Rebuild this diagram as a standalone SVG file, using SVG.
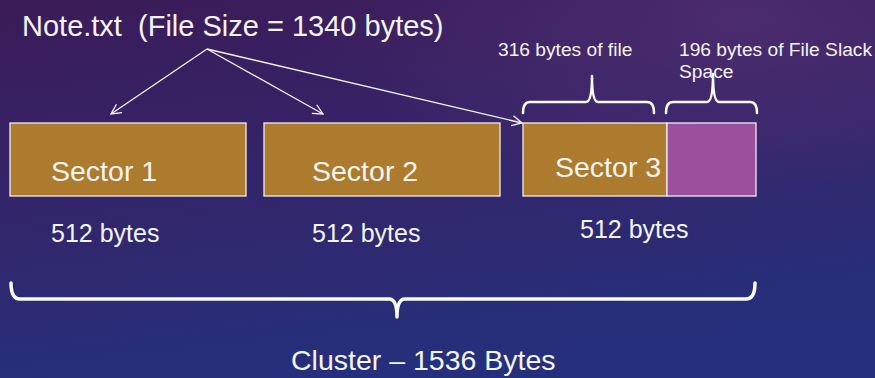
<svg xmlns="http://www.w3.org/2000/svg" width="875" height="378" viewBox="0 0 875 378">
<style>
text{font-family:"Liberation Sans",Arial,sans-serif;fill:#f4f4f4}
.title{font-size:29px;white-space:pre}
.big{font-size:28.5px}
.mid{font-size:25px}
.sm{font-size:19.2px}
.sector{fill:#ad7b2e;stroke:#f0ecf0;stroke-width:1.3}
.slack{fill:#9b4f9d;stroke:#f0ecf0;stroke-width:1.3}
.arrow{stroke:#f4f4f4;stroke-width:1.3;fill:none;marker-end:url(#head)}
.brace{stroke:#fafafa;fill:none;stroke-linejoin:round;stroke-linecap:round}
</style>
<defs>
<linearGradient id="bg" x1="0" y1="0" x2="0.25" y2="1">
<stop offset="0" stop-color="#3b1b58"/>
<stop offset="0.45" stop-color="#352468"/>
<stop offset="1" stop-color="#262f7b"/>
</linearGradient>
<radialGradient id="glow" cx="0.85" cy="0.05" r="0.5">
<stop offset="0" stop-color="#5a3577" stop-opacity="0.55"/>
<stop offset="1" stop-color="#5a3577" stop-opacity="0"/>
</radialGradient>
<marker id="head" viewBox="0 0 12 12" refX="11" refY="6" markerWidth="12" markerHeight="12" markerUnits="userSpaceOnUse" orient="auto">
<path d="M1,1 L11,6 L1,11" fill="none" stroke="#f4f4f4" stroke-width="1.3"/>
</marker>
</defs>
<rect width="875" height="378" fill="url(#bg)"/>
<rect width="875" height="378" fill="url(#glow)"/>

<g id="title">
<text class="title" x="22" y="36" xml:space="preserve">Note.txt  (File Size = 1340 bytes)</text>
</g>

<g id="connectors">
<path class="arrow" d="M207,49 L111,114"/>
<path class="arrow" d="M207,49 L323,114"/>
<path class="arrow" d="M207,49 L522,123"/>
</g>

<g id="sector1">
<rect class="sector" x="10" y="123" width="236" height="73"/>
<text class="big" x="51" y="181">Sector 1</text>
<text class="mid" x="51" y="242">512 bytes</text>
</g>

<g id="sector2">
<rect class="sector" x="264" y="123" width="236" height="73"/>
<text class="big" x="312" y="181">Sector 2</text>
<text class="mid" x="312" y="242">512 bytes</text>
</g>

<g id="sector3">
<rect class="sector" x="523" y="123" width="144" height="73"/>
<text class="big" x="555" y="177">Sector 3</text>
<text class="mid" x="580" y="238">512 bytes</text>
</g>

<g id="slack">
<rect class="slack" x="667" y="123" width="89" height="73"/>
</g>

<g id="braces">
<path class="brace" stroke-width="2.5" d="M523,113 Q523,102 530,102 L586,102 Q592,102 592,76 Q592,102 598,102 L647,102 Q654,102 654,113"/>
<path class="brace" stroke-width="2.5" d="M666,113 Q666,102 673,102 L707,102 Q713,102 713,74 Q713,102 719,102 L750,102 Q757,102 757,113"/>
<path class="brace" stroke-width="3.5" d="M11,283 Q11,299 20,299 L389,299 Q397,299 397,317 Q397,299 405,299 L746,299 Q755,299 755,283"/>
</g>

<g id="labels">
<text class="sm" x="498" y="56">316 bytes of file</text>
<text class="sm" x="679" y="56">196 bytes of File Slack</text>
<text class="sm" x="679" y="78">Space</text>
<text class="big" x="291" y="370">Cluster – 1536 Bytes</text>
</g>
</svg>
